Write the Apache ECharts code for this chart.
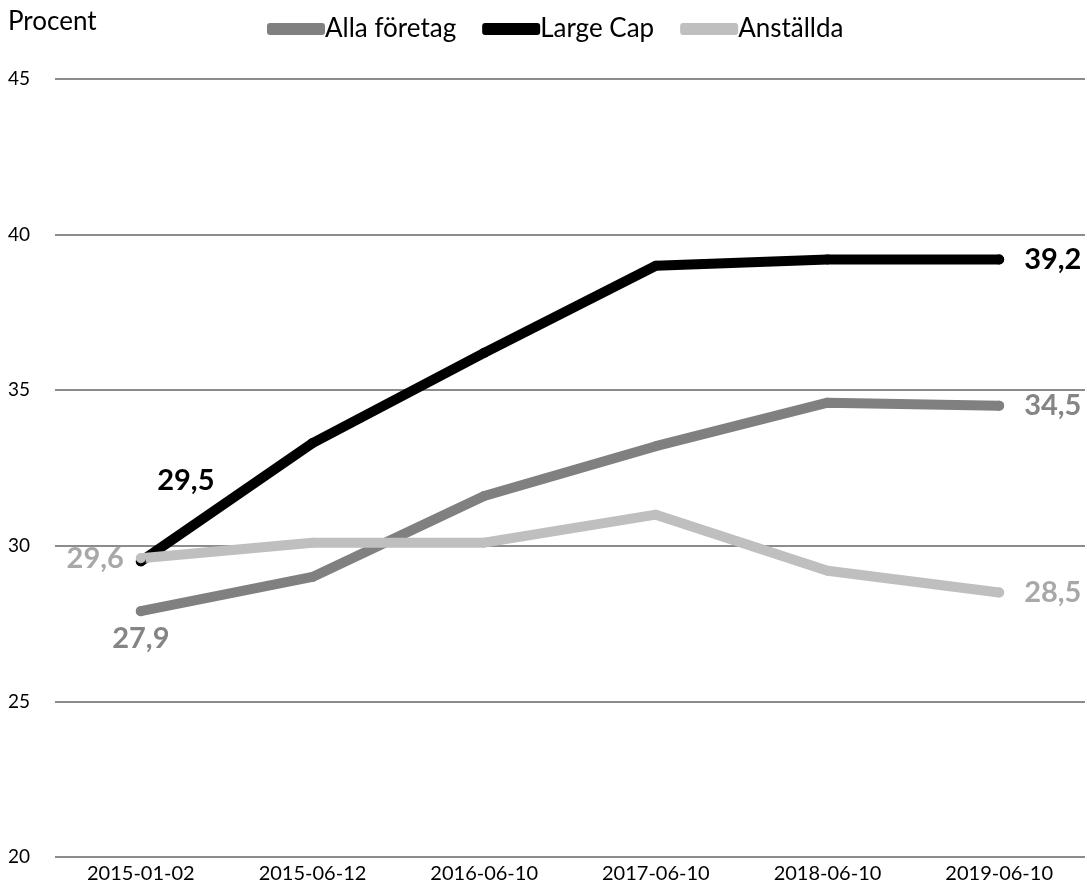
<!DOCTYPE html>
<html>
<head>
<meta charset="utf-8">
<script src="https://cdn.jsdelivr.net/npm/echarts@6/dist/echarts.min.js"></script>
<style>
  html, body { margin: 0; padding: 0; background: #fff; }
  #chart { width: 1087px; height: 890px; }
</style>
</head>
<body>
<div id="chart"></div>
<script>
var categories = ['2015-01-02', '2015-06-12', '2016-06-10', '2017-06-10', '2018-06-10', '2019-06-10'];
var allaForetag = [27.9, 29.0, 31.6, 33.2, 34.6, 34.5];
var largeCap = [29.5, 33.3, 36.2, 39.0, 39.2, 39.2];
var anstallda = [29.6, 30.1, 30.1, 31.0, 29.2, 28.5];
var yTicks = [20, 25, 30, 35, 40, 45];

var myChart = echarts.init(document.getElementById('chart'));
var fontFam = 'Lato, "Open Sans", sans-serif';

function fmt(v) {
  return String(v.toFixed(1)).replace('.', ',');
}

// only first and last point get a label
function withLabels(values, color, firstLabel, lastLabel) {
  return values.map(function (v, i) {
    var item = { value: v };
    if (i === 0) item.label = Object.assign({ show: true, color: color }, firstLabel);
    else if (i === values.length - 1) item.label = Object.assign({ show: true, color: color }, lastLabel);
    return item;
  });
}

function makeSeries(name, values, lineColor, labelColor, firstLabel, lastLabel) {
  return {
    name: name,
    type: 'line',
    data: withLabels(values, labelColor, firstLabel, lastLabel),
    symbol: 'circle',
    symbolSize: 10,
    itemStyle: { color: lineColor },
    lineStyle: { width: 10, color: lineColor, cap: 'round', join: 'round' },
    label: {
      show: false,
      fontSize: 29,
      fontWeight: 'bold',
      fontFamily: fontFam,
      formatter: function (p) { return fmt(p.value); }
    },
    emphasis: { disabled: true },
    animation: false
  };
}

var option = {
  backgroundColor: '#fff',
  textStyle: { fontFamily: fontFam },
  graphic: [{
    type: 'text',
    left: 8,
    top: 9,
    style: { text: 'Procent', fontSize: 26, fontFamily: fontFam, fill: '#000' }
  }],
  legend: {
    left: 262,
    top: 11,
    itemWidth: 58,
    itemHeight: 12,
    itemGap: 26,
    icon: 'roundRect',
    textStyle: { fontSize: 26, color: '#000', fontFamily: fontFam, padding: [0, 0, 0, -5] },
    data: ['Alla företag', 'Large Cap', 'Anställda']
  },
  grid: { left: 55, right: 2, top: 79, bottom: 33 },
  xAxis: {
    type: 'category',
    data: categories,
    boundaryGap: true,
    axisLine: { show: false },
    axisTick: { show: false },
    axisLabel: { fontSize: 20, color: '#000', margin: 7, fontFamily: fontFam }
  },
  yAxis: {
    type: 'value',
    min: yTicks[0],
    max: yTicks[yTicks.length - 1],
    interval: 5,
    axisLine: { show: false },
    axisTick: { show: false },
    axisLabel: { fontSize: 19, color: '#000', margin: 47, align: 'left', fontFamily: fontFam,
      customValues: yTicks },
    splitLine: { lineStyle: { color: '#8c8c8c', width: 2 } }
  },
  series: [
    makeSeries('Alla företag', allaForetag, '#808080', '#858585',
      { position: 'bottom', distance: 8 },
      { position: 'right', distance: 20 }),
    makeSeries('Large Cap', largeCap, '#000000', '#000000',
      { position: 'top', offset: [45, -56] },
      { position: 'right', distance: 20 }),
    makeSeries('Anställda', anstallda, '#bfbfbf', '#a8a8a8',
      { position: 'left', distance: 12 },
      { position: 'right', distance: 20 })
  ]
};

myChart.setOption(option);
</script>
</body>
</html>
